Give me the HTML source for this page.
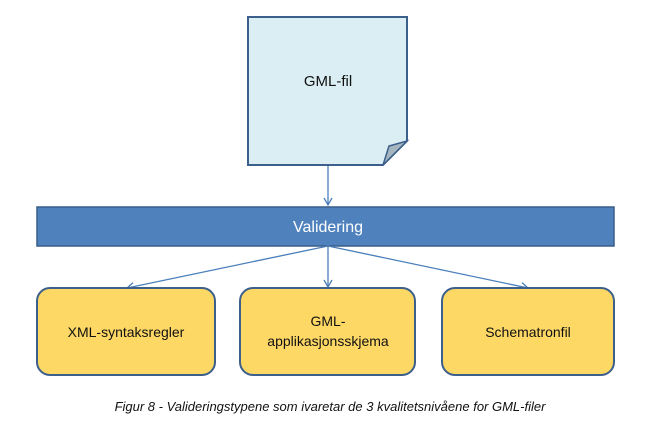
<!DOCTYPE html>
<html><head><style>body{margin:0;background:#fff}</style></head><body>
<svg width="670" height="443" xmlns="http://www.w3.org/2000/svg" style="display:block">
<defs><marker id="a" markerWidth="10" markerHeight="10" refX="8" refY="5" orient="auto" markerUnits="userSpaceOnUse"><path d="M1,1 L8,5 L1,9" fill="none" stroke="#4a7ebb" stroke-width="1.3"/></marker></defs>
<path d="M248,17 H407 V141 L383,165 H248 Z" fill="#dbeef4" stroke="#3c5f8c" stroke-width="2"/>
<path d="M407,141 L383,165 L389,146 Z" fill="#a5b6c1" stroke="#3c5f8c" stroke-width="1.5"/>
<text x="328" y="86" font-family="Liberation Sans, sans-serif" font-size="15" text-anchor="middle" fill="#111">GML-fil</text>
<line x1="328" y1="166" x2="328" y2="205" stroke="#4a7ebb" stroke-width="1.3" marker-end="url(#a)"/>
<rect x="37" y="207" width="577" height="39" fill="#4f81bd" stroke="#385d8a" stroke-width="1.5"/>
<text x="328" y="232" font-family="Liberation Sans, sans-serif" font-size="16" text-anchor="middle" fill="#fff">Validering</text>
<line x1="328" y1="246" x2="127" y2="288" stroke="#4a7ebb" stroke-width="1.3" marker-end="url(#a)"/>
<line x1="328" y1="246" x2="328" y2="287" stroke="#4a7ebb" stroke-width="1.3" marker-end="url(#a)"/>
<line x1="328" y1="246" x2="528" y2="288" stroke="#4a7ebb" stroke-width="1.3" marker-end="url(#a)"/>
<g fill="#fdd865" stroke="#3c5f8c" stroke-width="2">
<rect x="37" y="288" width="178" height="87" rx="13"/>
<rect x="240" y="288" width="175" height="87" rx="13"/>
<rect x="442" y="288" width="172" height="87" rx="13"/>
</g>
<g font-family="Liberation Sans, sans-serif" font-size="14" text-anchor="middle" fill="#111">
<text x="126" y="337">XML-syntaksregler</text>
<text x="328" y="326">GML-</text>
<text x="328" y="346">applikasjonsskjema</text>
<text x="528" y="337">Schematronfil</text>
</g>
<text x="330" y="411" font-family="Liberation Sans, sans-serif" font-size="13" font-style="italic" text-anchor="middle" fill="#111">Figur 8 - Valideringstypene som ivaretar de 3 kvalitetsnivåene for GML-filer</text>
</svg>
</body></html>
